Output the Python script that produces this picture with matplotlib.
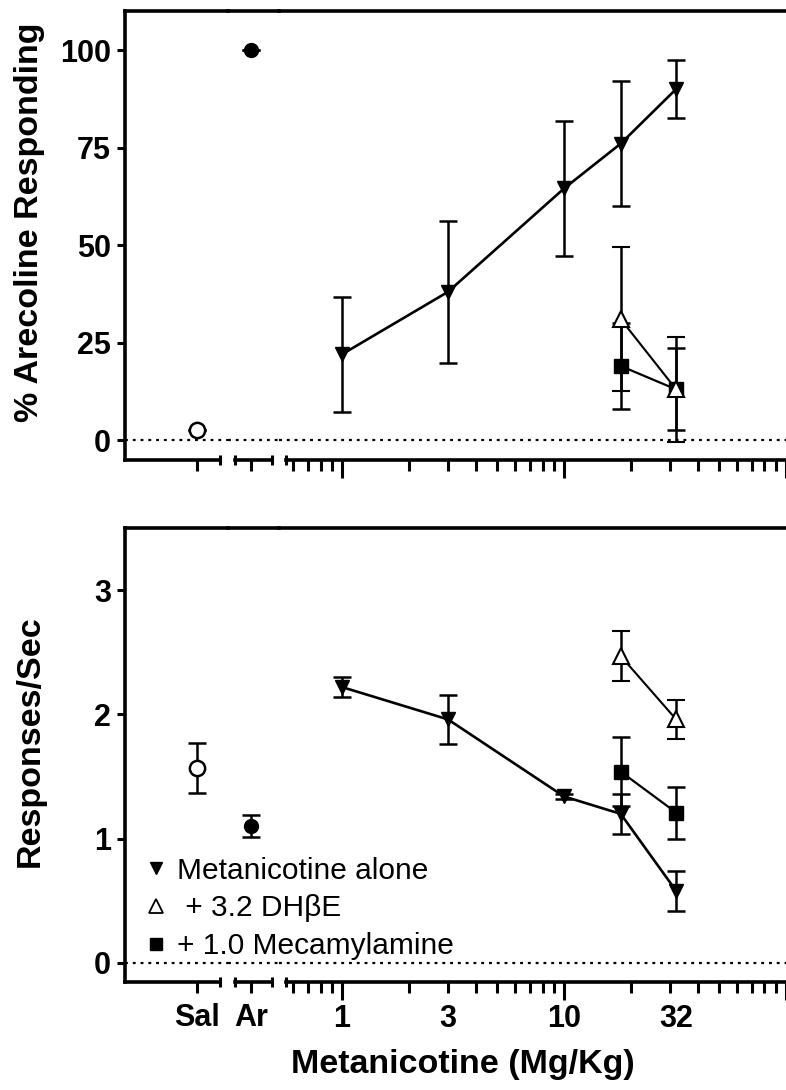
import numpy as np
import matplotlib
matplotlib.use("Agg")
import matplotlib.pyplot as plt
from matplotlib.lines import Line2D
from matplotlib.ticker import FixedLocator, LogLocator, NullFormatter

plt.rcParams['font.family'] = ['Liberation Sans', 'DejaVu Sans']

# doses (mg/kg)
doses = [1, 3, 10, 18, 32]
combo_doses = [18, 32]
dose_labels = [1, 3, 10, 32]

# % arecoline responding
sal_pct, sal_pct_err = 2.5, 0
ar_pct, ar_pct_err = 100, 0
met_pct = [22, 38, 64.5, 76, 90]
met_pct_err = [14.7, 18.2, 17.4, 16, 7.5]
dhbe_pct = [31, 13]
dhbe_pct_err = [18.5, 13.5]
mec_pct = [19, 13]
mec_pct_err = [11, 10.5]

# responses / sec
sal_rate, sal_rate_err = 1.57, 0.2
ar_rate, ar_rate_err = 1.10, 0.09
met_rate = [2.22, 1.96, 1.34, 1.20, 0.58]
met_rate_err = [0.08, 0.2, 0.02, 0.16, 0.16]
dhbe_rate = [2.47, 1.96]
dhbe_rate_err = [0.2, 0.16]
mec_rate = [1.54, 1.21]
mec_rate_err = [0.28, 0.21]

W, H = 786, 1090
fig = plt.figure(figsize=(W / 100, H / 100), dpi=100)

SPINE_W = 2.6
TICK_FS = 22
eb = dict(capsize=6.5, capthick=1.8, elinewidth=1.8, ecolor='k')


def px_axes(x0, x1, ytop, ybot, **kw):
    return fig.add_axes([x0 / W, 1 - ybot / H, (x1 - x0) / W, (ybot - ytop) / H], **kw)


def break_cap(ax, x):
    ax.plot([x], [0], marker='|', ms=7.5, mew=2.2, color='k',
            transform=ax.get_xaxis_transform(), clip_on=False)


def make_panel(ytop, ybot, ylim, yticks, show_xlabels):
    ax_sal = px_axes(125, 228, ytop, ybot)
    ax_ar = px_axes(228, 279, ytop, ybot, sharey=ax_sal)
    ax_log = px_axes(279, 786, ytop, ybot, sharey=ax_sal)
    ax_sal.set_ylim(*ylim)

    for ax in (ax_sal, ax_ar, ax_log):
        ax.spines['right'].set_visible(False)
        for s in ('top', 'bottom', 'left'):
            ax.spines[s].set_linewidth(SPINE_W)
        ax.axhline(0, ls=(0, (1.3, 2.2)), lw=1.6, color='k', zorder=1)
        ax.tick_params(axis='x', which='both', direction='out', width=2.2,
                       length=8, labelsize=TICK_FS, pad=7)
        ax.patch.set_visible(False)
    for ax in (ax_ar, ax_log):
        ax.spines['left'].set_visible(False)
        ax.tick_params(axis='y', which='both', left=False, labelleft=False)

    ax_sal.set_yticks(yticks)
    ax_sal.tick_params(axis='y', direction='out', length=6, width=2.2,
                       labelsize=TICK_FS, pad=4)
    for lab in ax_sal.get_yticklabels():
        lab.set_fontweight('bold')

    # category segments
    ax_sal.set_xlim(-1.0, 0.43)
    ax_sal.spines['bottom'].set_bounds(-1.0, 0.32)
    break_cap(ax_sal, 0.32)
    ax_ar.set_xlim(-0.32, 0.39)
    ax_ar.spines['bottom'].set_bounds(-0.22, 0.29)
    break_cap(ax_ar, -0.22)
    break_cap(ax_ar, 0.29)

    # log dose segment
    ax_log.set_xscale('log')
    ax_log.set_xlim(0.52, 100)
    ax_log.spines['bottom'].set_bounds(0.56, 100)
    break_cap(ax_log, 0.56)
    ax_log.xaxis.set_major_locator(FixedLocator([1, 10, 100]))
    ax_log.xaxis.set_minor_locator(LogLocator(base=10, subs=np.arange(2, 10)))
    ax_log.xaxis.set_major_formatter(NullFormatter())
    ax_log.xaxis.set_minor_formatter(NullFormatter())
    ax_log.tick_params(axis='x', which='major', length=13)

    if show_xlabels:
        for d in dose_labels:
            ax_log.annotate(str(d), (d, 0), xycoords=('data', 'axes fraction'),
                            xytext=(0, -15.5), textcoords='offset points',
                            ha='center', va='top', fontsize=TICK_FS,
                            fontweight='bold')
    return ax_sal, ax_ar, ax_log


def draw(axes, sal, sal_e, ar, ar_e, met, met_e, dh, dh_e, mec, mec_e):
    ax_sal, ax_ar, ax_log = axes
    ax_sal.errorbar(['Sal'], [sal], yerr=[sal_e], fmt='o', ms=11, mfc='white',
                    mec='k', mew=1.8, zorder=4, **eb)
    ax_ar.errorbar(['Ar'], [ar], yerr=[ar_e], fmt='o', ms=10, mfc='k',
                   mec='k', zorder=4, **eb)
    ax_log.errorbar(doses, met, yerr=met_e, fmt='-v', color='k', lw=1.9,
                    ms=10.5, zorder=4, **eb)
    ax_log.errorbar(combo_doses, mec, yerr=mec_e, fmt='-s', color='k', lw=1.6,
                    ms=9.5, zorder=3, **eb)
    ax_log.errorbar(combo_doses, dh, yerr=dh_e, fmt='-^', color='k', lw=1.5,
                    ms=11, mfc='white', mec='k', mew=1.5, zorder=5, **eb)
    for ax in (ax_sal, ax_ar):
        for lab in ax.get_xticklabels():
            lab.set_fontweight('bold')


top = make_panel(11, 460, (-5.1, 110), [0, 25, 50, 75, 100], False)
draw(top, sal_pct, sal_pct_err, ar_pct, ar_pct_err, met_pct, met_pct_err,
     dhbe_pct, dhbe_pct_err, mec_pct, mec_pct_err)
for ax in top[:2]:
    ax.tick_params(axis='x', labelbottom=False)

bot = make_panel(528, 982, (-0.153, 3.5), [0, 1, 2, 3], True)
draw(bot, sal_rate, sal_rate_err, ar_rate, ar_rate_err, met_rate, met_rate_err,
     dhbe_rate, dhbe_rate_err, mec_rate, mec_rate_err)

handles = [
    Line2D([], [], marker='v', ls='none', color='k', ms=8.5),
    Line2D([], [], marker='^', ls='none', mfc='white', mec='k', mew=1.3, ms=9.5),
    Line2D([], [], marker='s', ls='none', color='k', ms=8.5),
]
labels = ['Metanicotine alone', ' + 3.2 DH\u03b2E', '+ 1.0 Mecamylamine']
bot[2].legend(handles, labels, loc='lower left',
              bbox_to_anchor=(146 / W, 1 - 960 / H), bbox_transform=fig.transFigure,
              frameon=False, fontsize=21.5, handlelength=0.7, handletextpad=0.35,
              labelspacing=0.32, borderpad=0, borderaxespad=0)

fig.text(30 / W, 1 - 222 / H, '% Arecoline Responding', rotation=90,
         ha='center', va='center', fontsize=24.5, fontweight='bold')
fig.text(30 / W, 1 - 741 / H, 'Responses/Sec', rotation=90,
         ha='center', va='center', fontsize=24.5, fontweight='bold')
fig.text(463 / W, 1 - 1065 / H, 'Metanicotine (Mg/Kg)',
         ha='center', va='center', fontsize=24.5, fontweight='bold')

fig.savefig('out.png', dpi=100)
